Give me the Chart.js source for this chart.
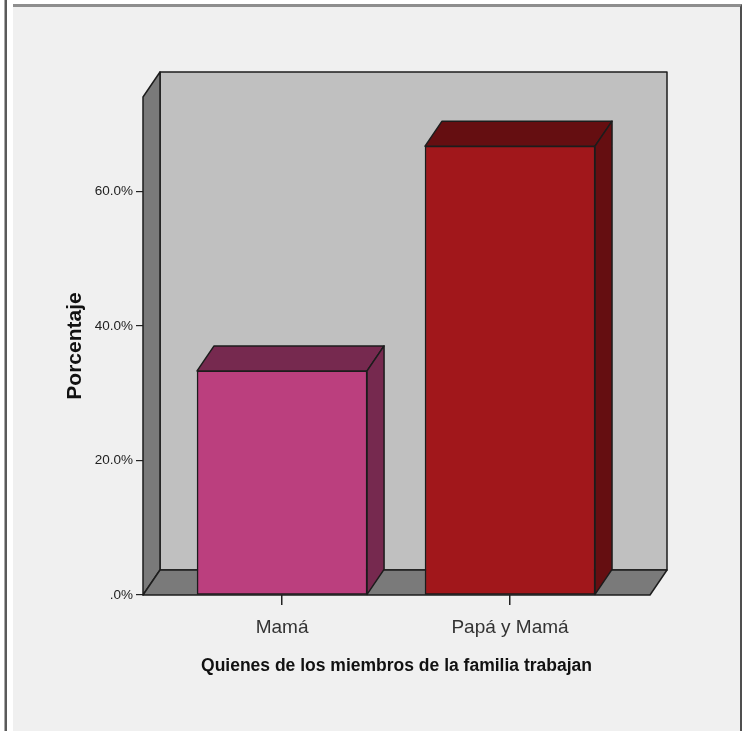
<!DOCTYPE html>
<html>
<head>
<meta charset="utf-8">
<script src="https://cdn.jsdelivr.net/npm/chart.js@4.4.1/dist/chart.umd.min.js"></script>
<style>
  html, body { margin: 0; padding: 0; background: #ffffff; }
  body { width: 752px; height: 731px; position: relative; overflow: hidden; }
  #lineLeft { position: absolute; left: 4px; top: 0; width: 1px; height: 731px; background: #a8a8a8; border-right: 2px solid #5a5a5a; }
  #panel { position: absolute; left: 13px; top: 4px; width: 729px; height: 727px; background: #f0f0f0;
           border-top: 3px solid #8e8e8e; border-right: 2px solid #4f4f4f; box-sizing: border-box; }
  #c { position: absolute; left: 0; top: 0; }
</style>
</head>
<body>
<div id="lineLeft"></div>
<div id="panel"></div>
<canvas id="c" width="752" height="731"></canvas>
<script>
const categories = ['Mamá', 'Papá y Mamá'];
const percentages = [33.3, 66.7];
const yTickValues = [0, 20, 40, 60];
const frontColors = ['#bb3f7e', '#a1171b'];
const shadeColors = ['#76294f', '#650e11'];

const FONT = '"Liberation Sans", Arial, sans-serif';
const DX = 17, DY = 25;
const EDGE = '#1c1c1c';

function poly(ctx, pts, fill) {
  ctx.beginPath();
  ctx.moveTo(pts[0][0], pts[0][1]);
  for (let i = 1; i < pts.length; i++) ctx.lineTo(pts[i][0], pts[i][1]);
  ctx.closePath();
  ctx.fillStyle = fill;
  ctx.fill();
  ctx.stroke();
}

const box3d = {
  id: 'box3d',
  beforeDatasetsDraw(chart) {
    const ctx = chart.ctx;
    const a = chart.chartArea;
    const y0 = chart.scales.y.getPixelForValue(0);
    ctx.save();
    ctx.lineWidth = 1.5;
    ctx.strokeStyle = EDGE;
    ctx.lineJoin = 'round';
    poly(ctx, [[a.left + DX, a.top - DY], [a.right + DX, a.top - DY], [a.right + DX, y0 - DY], [a.left + DX, y0 - DY]], '#c0c0c0');
    poly(ctx, [[a.left, a.top], [a.left + DX, a.top - DY], [a.left + DX, y0 - DY], [a.left, y0]], '#7a7a7a');
    poly(ctx, [[a.left, y0], [a.left + DX, y0 - DY], [a.right + DX, y0 - DY], [a.right, y0]], '#7a7a7a');
    ctx.restore();
  },
  afterDatasetsDraw(chart) {
    const ctx = chart.ctx;
    const meta = chart.getDatasetMeta(0);
    ctx.save();
    ctx.lineWidth = 1.5;
    ctx.strokeStyle = EDGE;
    ctx.lineJoin = 'round';
    meta.data.forEach((bar, i) => {
      const p = bar.getProps(['x', 'y', 'base', 'width'], true);
      const l = p.x - p.width / 2, r = p.x + p.width / 2, t = p.y, b = p.base;
      poly(ctx, [[l, t], [l + DX, t - DY], [r + DX, t - DY], [r, t]], shadeColors[i]);
      poly(ctx, [[r, t], [r + DX, t - DY], [r + DX, b - DY], [r, b]], shadeColors[i]);
    });
    ctx.restore();
  }
};

new Chart(document.getElementById('c'), {
  type: 'bar',
  data: {
    datasets: [{
      data: categories.map((c, i) => ({ x: i, y: percentages[i] })),
      backgroundColor: frontColors,
      borderColor: EDGE,
      borderWidth: 1.5,
      borderSkipped: false,
      barThickness: 170
    }]
  },
  options: {
    responsive: false,
    animation: false,
    layout: { padding: { top: 97, right: 102, left: 0, bottom: 0 } },
    plugins: { legend: { display: false }, tooltip: { enabled: false } },
    scales: {
      x: {
        type: 'linear',
        offset: false,
        min: -0.61,
        max: 1.614,
        afterBuildTicks: s => { s.ticks = categories.map((c, i) => ({ value: i })); },
        afterFit: s => { s.height = 136; },
        ticks: {
          callback: v => categories[v],
          font: { family: FONT, size: 19 },
          color: '#333333',
          padding: 11,
          maxRotation: 0,
          autoSkip: false
        },
        grid: { display: true, offset: false, drawOnChartArea: false, drawTicks: true, tickLength: 10, color: '#222', lineWidth: 1.5 },
        border: { display: false },
        title: {
          display: true,
          text: 'Quienes de los miembros de la familia trabajan',
          font: { family: FONT, size: 17.5, weight: 'bold' },
          color: '#111111',
          padding: { top: 0, bottom: 54 }
        }
      },
      y: {
        type: 'linear',
        min: 0,
        max: 74,
        afterBuildTicks: s => { s.ticks = yTickValues.map(v => ({ value: v })); },
        afterFit: s => { s.width = 143; },
        ticks: {
          callback: v => (v === 0 ? '.0%' : v.toFixed(1) + '%'),
          font: { family: FONT, size: 13.5 },
          color: '#222222',
          padding: 3
        },
        grid: { display: true, drawOnChartArea: false, drawTicks: true, tickLength: 7, color: '#222', lineWidth: 1.2 },
        border: { display: false },
        title: {
          display: true,
          text: 'Porcentaje',
          font: { family: FONT, size: 21, weight: 'bold' },
          color: '#111111',
          padding: { top: 63, bottom: 0 }
        }
      }
    }
  },
  plugins: [box3d]
});
</script>
</body>
</html>
